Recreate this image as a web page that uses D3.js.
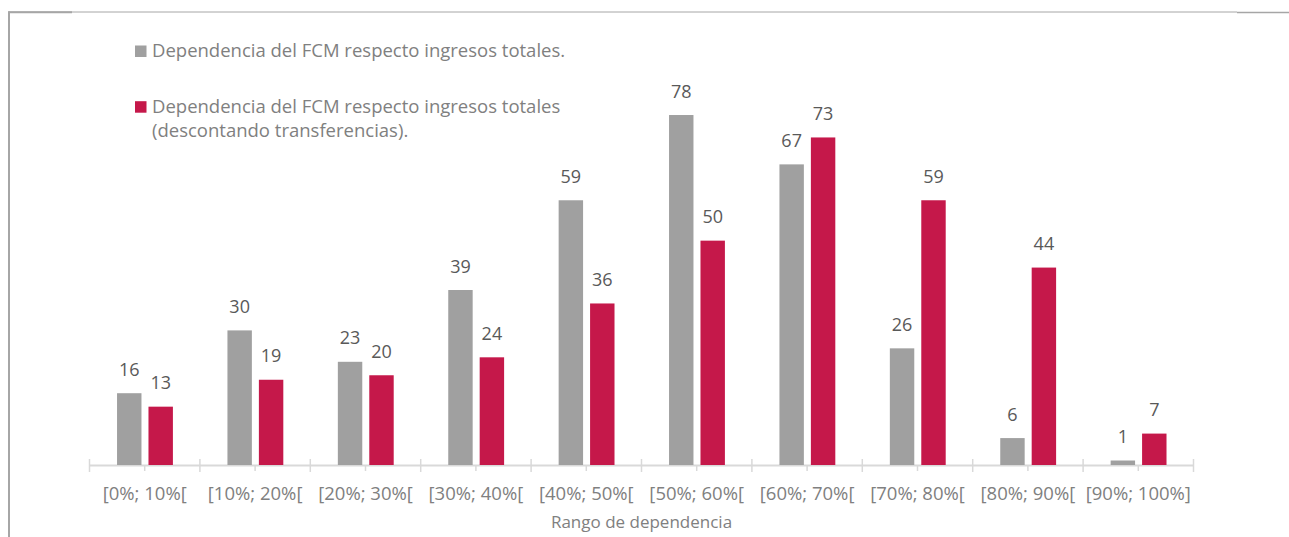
<!DOCTYPE html>
<html>
<head>
<meta charset="utf-8">
<script src="https://cdn.jsdelivr.net/npm/d3@7"></script>
<style>
  html, body { margin: 0; padding: 0; background: #fff; }
  svg { display: block; }
  text { font-family: "Open Sans", sans-serif; }
</style>
</head>
<body>
<svg id="chart" width="1289" height="537"></svg>
<script>
const categories = ["[0%; 10%[", "[10%; 20%[", "[20%; 30%[", "[30%; 40%[", "[40%; 50%[", "[50%; 60%[", "[60%; 70%[", "[70%; 80%[", "[80%; 90%[", "[90%; 100%]"];
const seriesNames = ["Dependencia del FCM respecto ingresos totales.", "Dependencia del FCM respecto ingresos totales (descontando transferencias)."];
const totalIngresos = [16, 30, 23, 39, 59, 78, 67, 26, 6, 1];
const sinTransferencias = [13, 19, 20, 24, 36, 50, 73, 59, 44, 7];
const axisTitle = "Rango de dependencia";
const colors = ["#a0a0a0", "#c5184a"];

const svg = d3.select("#chart");
const W = 1289, H = 537;

// frame
const frameColor = "#a6a6a6";
svg.append("line").attr("x1", 9).attr("x2", 1237).attr("y1", 12).attr("y2", 12)
  .attr("stroke", frameColor).attr("stroke-width", 1);
svg.append("line").attr("x1", 8).attr("x2", 72).attr("y1", 12.3).attr("y2", 12.3)
  .attr("stroke", frameColor).attr("stroke-width", 2);
svg.append("line").attr("x1", 1237).attr("x2", 1289).attr("y1", 12.5).attr("y2", 12.5)
  .attr("stroke", frameColor).attr("stroke-width", 1.6);
svg.append("line").attr("x1", 9).attr("x2", 9).attr("y1", 11.5).attr("y2", H)
  .attr("stroke", frameColor).attr("stroke-width", 2);

const x0 = d3.scaleBand().domain(categories).range([89.5, 1193.5]).paddingInner(0).paddingOuter(0);
const bw = x0.bandwidth();
const keys = [0, 1];
const x1 = d3.scaleBand().domain(keys).range([bw * 0.2495, bw * 0.7555]).paddingInner(0.223);
const y = d3.scaleLinear().domain([0, 90]).range([465, 465 - 90 * 4.487]);

const data = categories.map((c, i) => ({ cat: c, vals: [totalIngresos[i], sinTransferencias[i]] }));

// axis line + ticks
const axisColor = "#d9d9d9";
const gAxis = svg.append("g").attr("transform", `translate(0,${y(0)})`);
const axis = d3.axisBottom(x0).tickSize(6).tickSizeOuter(0).tickPadding(16);
gAxis.call(axis);
gAxis.select(".domain").attr("stroke", axisColor).attr("stroke-width", 2);
gAxis.selectAll(".tick line").attr("stroke", axisColor).attr("stroke-width", 1.5);
gAxis.selectAll(".tick text").attr("fill", "#808080").style("font-size", "18.5px")
  .style("font-family", "'Open Sans', sans-serif");
// boundary ticks
const bounds = categories.map(c => x0(c)).concat([x0(categories[categories.length - 1]) + bw]);
gAxis.selectAll(".bound").data(bounds).join("line").attr("class", "bound")
  .attr("x1", d => d).attr("x2", d => d).attr("y1", -6).attr("y2", 7)
  .attr("stroke", axisColor).attr("stroke-width", 1.5);

// bars
const groups = svg.selectAll(".grp").data(data).join("g").attr("class", "grp")
  .attr("transform", d => `translate(${x0(d.cat)},0)`);
groups.selectAll("rect").data(d => d.vals.map((v, k) => ({ v, k }))).join("rect")
  .attr("x", d => x1(d.k)).attr("width", x1.bandwidth())
  .attr("y", d => y(d.v)).attr("height", d => y(0) - y(d.v))
  .attr("fill", d => colors[d.k]);
groups.selectAll("text").data(d => d.vals.map((v, k) => ({ v, k }))).join("text")
  .attr("x", d => x1(d.k) + x1.bandwidth() / 2).attr("y", d => y(d.v) - 17.5)
  .attr("text-anchor", "middle").attr("fill", "#595959").style("font-size", "18px")
  .text(d => d.v);

// axis title
svg.append("text").attr("x", (x0.range()[0] + x0.range()[1]) / 2).attr("y", 528)
  .attr("text-anchor", "middle").attr("fill", "#808080").style("font-size", "17px")
  .text(axisTitle);

// legend
const legendLines = [["Dependencia del FCM respecto ingresos totales."],
  ["Dependencia del FCM respecto ingresos totales", "(descontando transferencias)."]];
const legendY = [57, 112.7];
legendLines.forEach((lines, i) => {
  svg.append("rect").attr("x", 135).attr("y", legendY[i] - 11.5).attr("width", 11.5).attr("height", 11.5)
    .attr("fill", colors[i]);
  const t = svg.append("text").attr("x", 152).attr("y", legendY[i]).attr("fill", "#808080")
    .style("font-size", "18.5px");
  lines.forEach((l, j) => t.append("tspan").attr("x", 152).attr("dy", j === 0 ? 0 : 24).text(l));
});
</script>
</body>
</html>
